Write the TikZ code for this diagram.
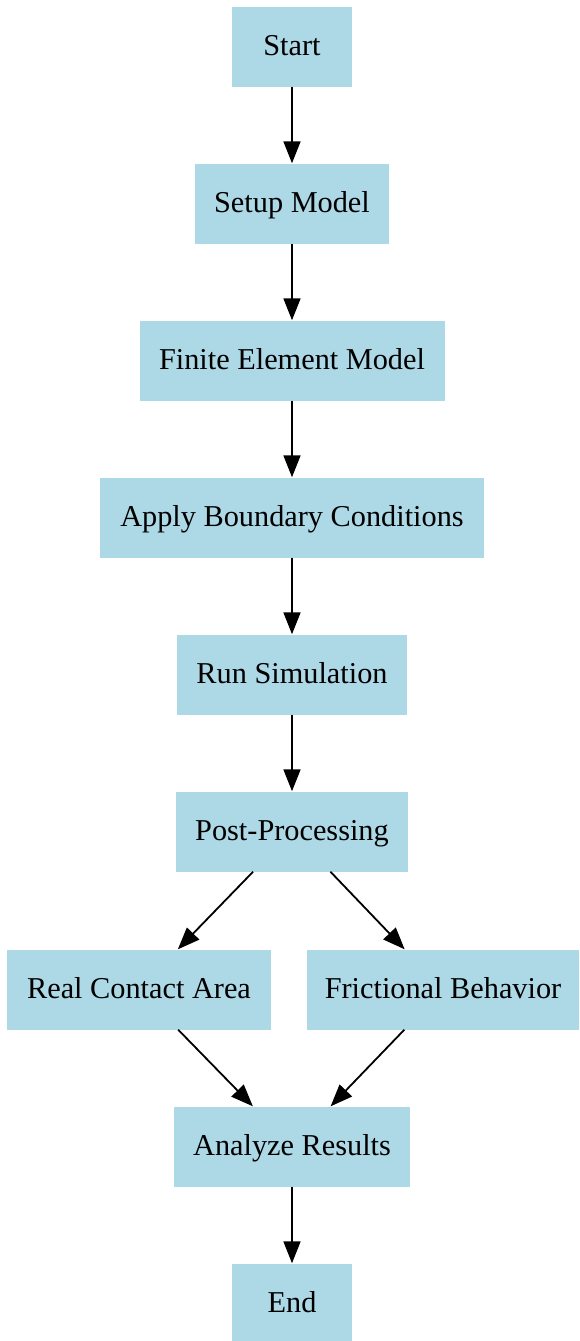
\documentclass[tikz,border=0pt]{standalone}
\usepackage{fontspec}
\setmainfont{Liberation Serif}
\usetikzlibrary{arrows.meta}
\definecolor{boxfill}{HTML}{ADD8E6}
\begin{document}
\begin{tikzpicture}[x=1pt,y=-1pt,
  stepbox/.style={rectangle, fill=boxfill, draw=none, inner sep=0pt,
    minimum height=80pt, text height=21pt, text depth=4pt,
    font=\fontsize{30.3}{36}\selectfont},
  flow/.style={line width=1.8pt, -{Triangle[length=22pt,width=17pt]}}]
\useasboundingbox (0,0) rectangle (579,1341);
\node[stepbox, minimum width=120pt] (start) at (292,46.5) {Start};
\node[stepbox, minimum width=194pt] (setup) at (292,203.5) {Setup Model};
\node[stepbox, minimum width=305pt] (fem) at (292,360.5) {Finite Element Model};
\node[stepbox, minimum width=384pt] (bc) at (292,517.5) {Apply Boundary Conditions};
\node[stepbox, minimum width=230pt] (run) at (292,674.5) {Run Simulation};
\node[stepbox, minimum width=232pt] (post) at (292,831.5) {Post-Processing};
\node[stepbox, minimum width=264pt] (area) at (139,989.5) {Real Contact Area};
\node[stepbox, minimum width=272pt] (fric) at (443,989.5) {Frictional Behavior};
\node[stepbox, minimum width=236pt] (res) at (292,1146.5) {Analyze Results};
\node[stepbox, minimum width=120pt] (end) at (292,1303.5) {End};
\draw[flow] (start) -- (setup);
\draw[flow] (setup) -- (fem);
\draw[flow] (fem) -- (bc);
\draw[flow] (bc) -- (run);
\draw[flow] (run) -- (post);
\draw[flow] (post) -- (area);
\draw[flow] (post) -- (fric);
\draw[flow] (area) -- (res);
\draw[flow] (fric) -- (res);
\draw[flow] (res) -- (end);
\end{tikzpicture}
\end{document}
